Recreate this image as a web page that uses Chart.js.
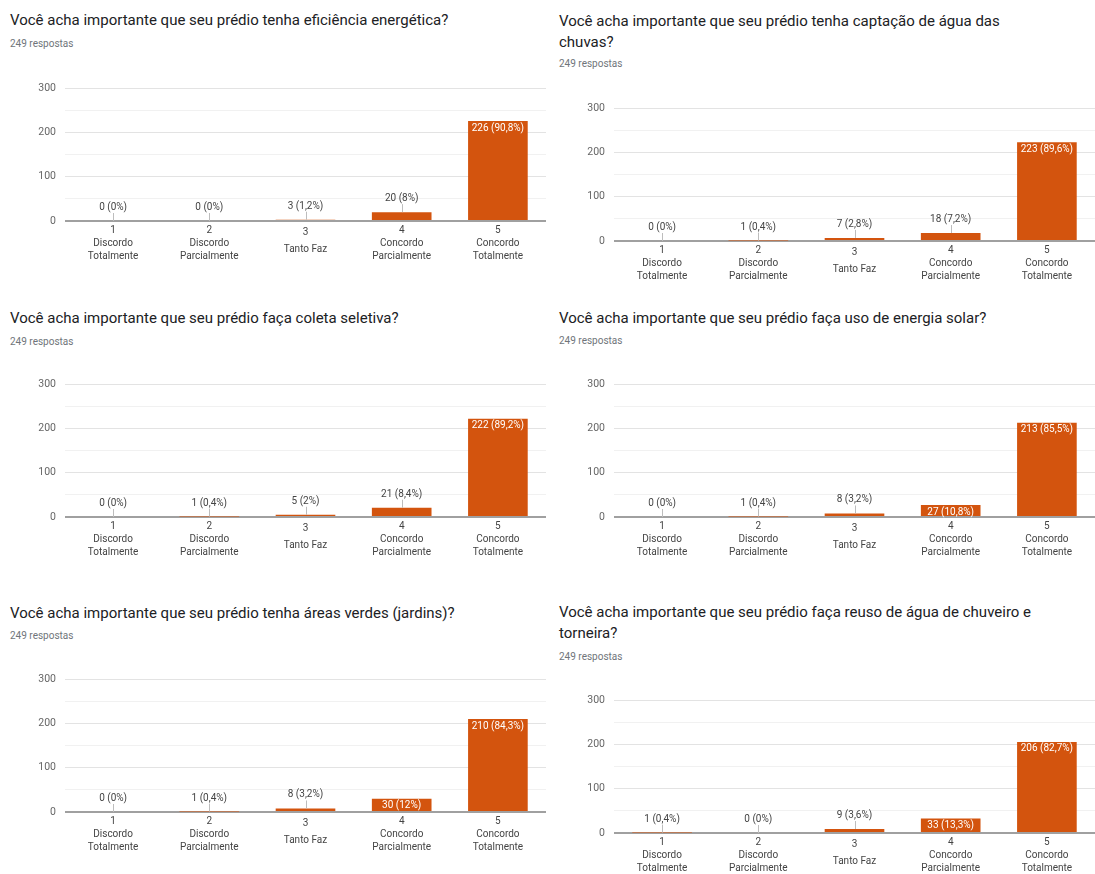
<!DOCTYPE html>
<html>
<head>
<meta charset="utf-8">
<script src="https://cdn.jsdelivr.net/npm/chart.js@4.4.1/dist/chart.umd.min.js"></script>
<style>
  body { margin: 0; background: #fff; width: 1095px; height: 874px; position: relative; overflow: hidden; font-family: Roboto, sans-serif; }
  .title { position: absolute; font-size: 15px; line-height: 21px; color: #202124; white-space: pre-line; }
  .sub { position: absolute; font-size: 10px; line-height: 14px; color: #70757a; }
  canvas { position: absolute; }
</style>
</head>
<body>
<script>
// answer scale (x axis)
const categories = [
  ['1', 'Discordo', 'Totalmente'],
  ['2', 'Discordo', 'Parcialmente'],
  ['3', 'Tanto Faz'],
  ['4', 'Concordo', 'Parcialmente'],
  ['5', 'Concordo', 'Totalmente']
];

const questions = [
  'Você acha importante que seu prédio tenha eficiência energética?',
  'Você acha importante que seu prédio tenha captação de água das\nchuvas?',
  'Você acha importante que seu prédio faça coleta seletiva?',
  'Você acha importante que seu prédio faça uso de energia solar?',
  'Você acha importante que seu prédio tenha áreas verdes (jardins)?',
  'Você acha importante que seu prédio faça reuso de água de chuveiro e\ntorneira?'
];

// answers per category
const eficiencia = [0, 0, 3, 20, 226];
const captacao = [0, 1, 7, 18, 223];
const coleta = [0, 1, 5, 21, 222];
const solar = [0, 1, 8, 27, 213];
const verdes = [0, 1, 8, 30, 210];
const reuso = [1, 0, 9, 33, 206];

const totalRespostas = 249;
const yMax = 300;
const yStep = 50;   // minor lines every 50, labels every 100

const seriesList = [eficiencia, captacao, coleta, solar, verdes, reuso];

// page layout of each panel
const layout = [
  { x: 10, titleTop: 10, subTop: 37, plotLeft: 65, plotTop: 83 },
  { x: 559, titleTop: 11, subTop: 57, plotLeft: 614, plotTop: 103 },
  { x: 10, titleTop: 308, subTop: 335, plotLeft: 65, plotTop: 379 },
  { x: 559, titleTop: 308, subTop: 334, plotLeft: 614, plotTop: 379 },
  { x: 10, titleTop: 603, subTop: 629, plotLeft: 65, plotTop: 674 },
  { x: 559, titleTop: 602, subTop: 650, plotLeft: 614, plotTop: 695 }
];
const plotWidth = 481;
const plotHeight = 138;
const yAxisWidth = 50;
const xAxisHeight = 50;
const padTop = 10;

Chart.defaults.font.family = 'Roboto';

// "n (p%)" labels with the little leader line
const valueLabels = {
  id: 'valueLabels',
  afterDatasetsDraw(chart) {
    const ctx = chart.ctx;
    const values = chart.data.datasets[0].data;
    const zeroY = chart.scales.y.getPixelForValue(0);
    chart.getDatasetMeta(0).data.forEach((bar, i) => {
      const v = values[i];
      const topY = chart.scales.y.getPixelForValue(v);
      const pct = Math.round(v / totalRespostas * 1000) / 10;
      const text = v + ' (' + String(pct).replace('.', ',') + '%)';
      const h = zeroY - topY;
      ctx.save();
      ctx.font = '10px Roboto';
      ctx.textAlign = 'center';
      ctx.textBaseline = 'middle';
      if (h >= 11) {
        ctx.fillStyle = '#ffffff';
        ctx.fillText(text, bar.x, topY + 7);
      } else {
        const lx = Math.round(bar.x) + 0.5;
        ctx.strokeStyle = '#bdbdbd';
        ctx.lineWidth = 1;
        ctx.beginPath();
        ctx.moveTo(lx, topY);
        ctx.lineTo(lx, topY - 8);
        ctx.stroke();
        ctx.fillStyle = '#444444';
        ctx.fillText(text, bar.x, topY - 13.5);
      }
      ctx.restore();
    });
  }
};

seriesList.forEach((values, n) => {
  const pos = layout[n];

  const title = document.createElement('div');
  title.className = 'title';
  title.style.left = pos.x + 'px';
  title.style.top = pos.titleTop + 'px';
  title.textContent = questions[n];
  document.body.appendChild(title);

  const sub = document.createElement('div');
  sub.className = 'sub';
  sub.style.left = pos.x + 'px';
  sub.style.top = pos.subTop + 'px';
  sub.textContent = totalRespostas + ' respostas';
  document.body.appendChild(sub);

  const canvas = document.createElement('canvas');
  canvas.width = plotWidth + yAxisWidth;
  canvas.height = plotHeight + padTop + xAxisHeight;
  canvas.style.left = (pos.plotLeft - yAxisWidth) + 'px';
  canvas.style.top = (pos.plotTop - padTop) + 'px';
  document.body.appendChild(canvas);

  new Chart(canvas.getContext('2d'), {
    type: 'bar',
    data: {
      labels: categories,
      datasets: [{
        data: values,
        backgroundColor: '#d3540e',
        barPercentage: 0.62,
        categoryPercentage: 1
      }]
    },
    options: {
      responsive: false,
      animation: false,
      layout: { padding: { top: padTop, right: 0, bottom: 0, left: 0 } },
      plugins: {
        legend: { display: false },
        tooltip: { enabled: false }
      },
      scales: {
        x: {
          grid: { display: false, drawTicks: false },
          border: { display: false },
          afterFit: s => { s.height = xAxisHeight; },
          ticks: {
            autoSkip: false,
            maxRotation: 0,
            padding: 3,
            color: '#444444',
            font: c => ({ family: 'Roboto', size: 10, lineHeight: c.index === 2 ? '17px' : '13px' })
          }
        },
        y: {
          min: 0,
          max: yMax,
          afterFit: s => { s.width = yAxisWidth; },
          border: { display: false },
          grid: {
            drawTicks: false,
            color: c => c.tick.value === 0 ? '#a0a0a0' : (c.tick.value % 100 === 0 ? '#e3e3e3' : '#f1f1f1'),
            lineWidth: c => c.tick.value === 0 ? 2 : 1
          },
          ticks: {
            stepSize: yStep,
            padding: 9,
            color: '#666666',
            font: { size: 10.5 },
            callback: v => v % 100 === 0 ? v : ''
          }
        }
      }
    },
    plugins: [valueLabels]
  });
});
</script>
</body>
</html>
